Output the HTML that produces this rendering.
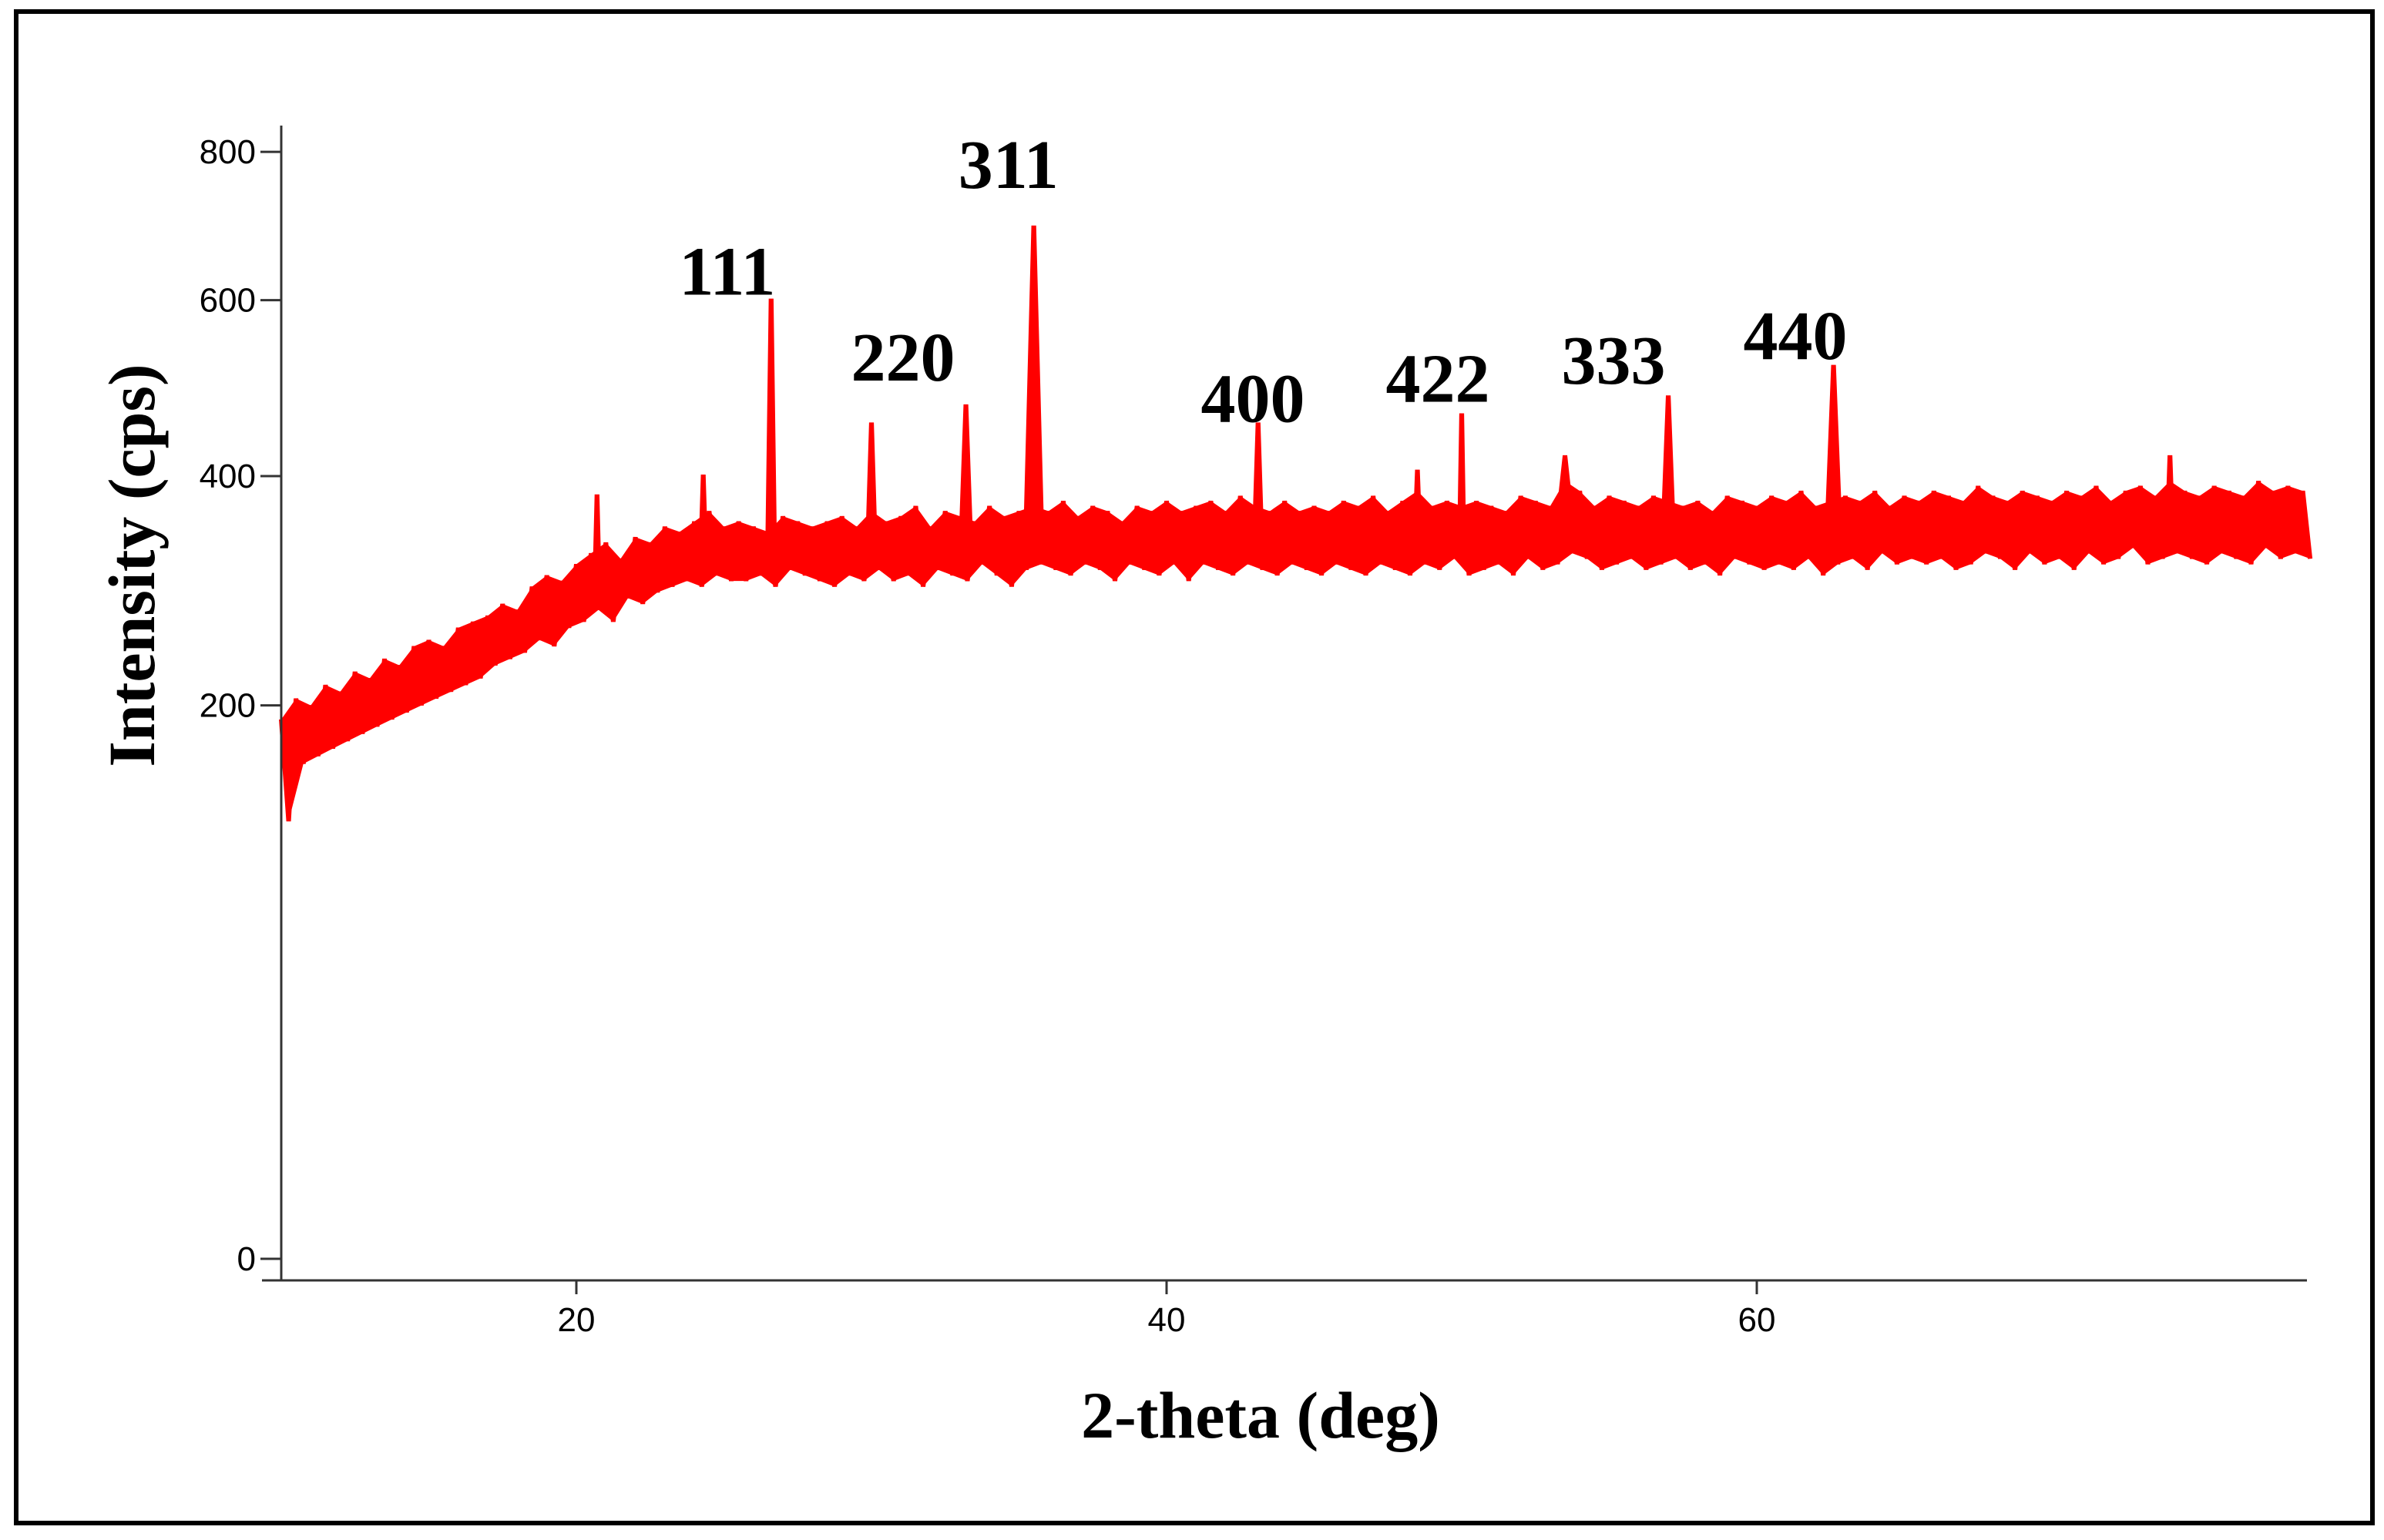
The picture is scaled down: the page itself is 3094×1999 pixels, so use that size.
<!DOCTYPE html>
<html><head><meta charset="utf-8">
<style>
html,body{margin:0;padding:0;background:#fff;}
svg{display:block;}
</style></head>
<body>
<svg id="chart" width="3094" height="1999" viewBox="0 0 3094 1999" xmlns="http://www.w3.org/2000/svg">
<rect x="21" y="15" width="3058" height="1962" fill="#fff" stroke="#000" stroke-width="6"/>
<g id="plot"></g>
</svg>
<script>
const xStart = 10, xStep = 0.5;
const baseHi = [190,205,200,215,210,225,220,235,230,245,250,
245,260,265,270,280,275,295,305,300,315,
325,335,320,340,335,350,345,355,365,350,
355,350,345,360,355,350,355,360,350,365,
355,360,370,350,365,360,355,370,360,365,
370,365,375,360,370,365,355,370,365,375,
365,370,375,365,380,370,365,375,365,370,
365,375,370,380,365,375,385,370,375,370,
375,370,365,380,375,370,395,385,370,380,
375,370,380,375,370,375,365,380,375,370,
380,375,385,370,375,380,375,385,370,380,
375,385,380,375,390,380,375,385,380,375,
385,380,390,375,385,390,380,395,385,380,
390,385,380,395,385,390,385];
const baseLo = [125,160,165,170,175,180,185,190,195,200,205,
210,215,220,230,235,240,250,245,260,265,
275,265,285,280,290,295,300,295,305,300,
300,305,295,310,305,300,295,305,300,310,
300,305,295,310,305,300,315,305,295,310,
315,310,305,315,310,300,315,310,305,315,
300,315,310,305,315,310,305,315,310,305,
315,310,305,315,310,305,315,310,320,305,
310,315,305,320,310,315,325,320,310,315,
320,310,315,320,310,315,305,320,315,310,
315,310,320,305,315,320,310,325,315,320,
315,320,310,315,325,320,310,325,315,320,
310,325,315,320,330,315,320,325,320,315,
325,320,315,330,320,325,320];
const peakPos = [20.7,24.3,26.6,30.0,33.2,35.5,43.1,48.5,50.0,53.5,57.0,62.6,74.0];
const peakVal = [380,400,600,455,475,695,455,405,465,420,485,520,420];
const peakHalfWidth = [0.1,0.1,0.15,0.15,0.2,0.3,0.15,0.1,0.1,0.25,0.2,0.25,0.1];
const yTicks = [0,200,400,600,800];
const xTicks = [20,40,60];
const peakLabels = ["111","220","311","400","422","333","440"];
const labelPos = [[476,192],[591,248],[660,122],[820,275],[941,262],[1056,250],[1175,234]];

const S = 1.983;
const X = v => 365 + (v - 10) * 38.3;
const Y = v => 1634 - Math.sqrt(v) * 50.8;
const NS = "http://www.w3.org/2000/svg";
const g = document.getElementById('plot');
function mk(tag, attrs){const e=document.createElementNS(NS,tag);for(const k in attrs)e.setAttribute(k,attrs[k]);g.appendChild(e);return e;}

let poly = [];
for(let i=0;i<baseHi.length;i++) poly.push(X(xStart+i*xStep)+','+Y(baseHi[i]));
for(let i=baseLo.length-1;i>=0;i--) poly.push(X(xStart+i*xStep+0.25)+','+Y(baseLo[i]));
const band = mk('polygon',{points:poly.join(' '),fill:'#ff0000'});


let d = '';
for(let i=0;i<baseHi.length;i++){
  const x = xStart+i*xStep;
  d += (i?'L':'M')+X(x)+','+Y(baseHi[i])+'L'+X(x+0.25)+','+Y(baseLo[i]);
}
const trace = mk('path',{d:d,fill:'none',stroke:'#ff0000','stroke-width':6,'stroke-linejoin':'miter'});


function hiAt(x){const i=Math.min(baseHi.length-1,Math.max(0,Math.round((x-xStart)/xStep)));return (baseHi[i]+baseLo[i])/2;}
for(let i=0;i<peakPos.length;i++){
  const p=peakPos[i], w=peakHalfWidth[i], b=hiAt(p);
  const pk = mk('path',{d:'M'+X(p-w)+','+Y(b)+'L'+X(p-0.03)+','+Y(peakVal[i])+'L'+X(p+0.03)+','+Y(peakVal[i])+'L'+X(p+w)+','+Y(b)+'Z',fill:'#ff0000',stroke:'#ff0000','stroke-width':4});
  
  
}
const ya = mk('line',{x1:365,y1:163,x2:365,y2:1662,stroke:'#333','stroke-width':3});


const xa = mk('line',{x1:340,y1:1662,x2:2994,y2:1662,stroke:'#333','stroke-width':3});


for(const t of yTicks){
  const tk = mk('line',{x1:338,y1:Y(t),x2:365,y2:Y(t),stroke:'#333','stroke-width':3});
  
  
  const tl = mk('text',{x:332,y:Y(t)+15,'text-anchor':'end','font-family':'Liberation Sans, sans-serif','font-size':44,fill:'#000'});
  tl.textContent = t;
  
  
}
for(const t of xTicks){
  const tk = mk('line',{x1:X(t),y1:1662,x2:X(t),y2:1680,stroke:'#333','stroke-width':3});
  
  
  const tl = mk('text',{x:X(t),y:1728,'text-anchor':'middle','font-family':'Liberation Sans, sans-serif','font-size':44,fill:'#000'});
  tl.textContent = t;
  
  
}
for(let i=0;i<peakLabels.length;i++){
  const tl = mk('text',{x:labelPos[i][0]*S,y:labelPos[i][1]*S+2,'text-anchor':'middle','font-family':'Liberation Serif, serif','font-weight':'bold','font-size':90,fill:'#000'});
  tl.textContent = peakLabels[i];
  
  
}
const xt = mk('text',{x:1636,y:1866,'text-anchor':'middle','font-family':'Liberation Serif, serif','font-weight':'bold','font-size':86,fill:'#000'});
xt.textContent = '2-theta (deg)';


const yt = mk('text',{x:0,y:0,transform:'translate(200,734) rotate(-90)','text-anchor':'middle','font-family':'Liberation Serif, serif','font-weight':'bold','font-size':86,fill:'#000'});
yt.textContent = 'Intensity (cps)';


</script>
</body></html>
